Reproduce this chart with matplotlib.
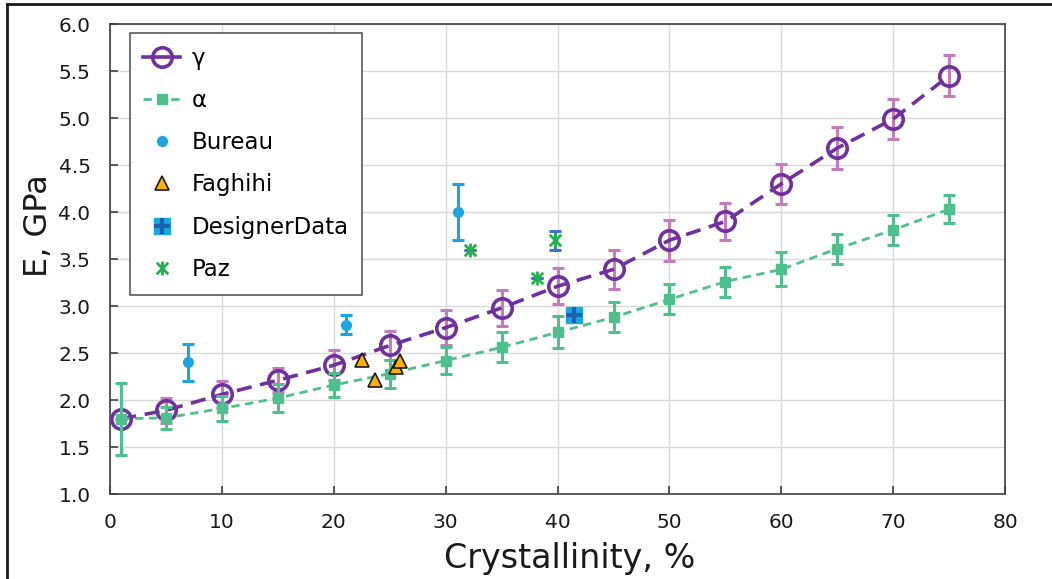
import matplotlib
matplotlib.use("Agg")
from matplotlib import pyplot as plt
from matplotlib.lines import Line2D
from matplotlib.path import Path

# model curves
cryst = [1, 5, 10, 15, 20, 25, 30, 35, 40, 45, 50, 55, 60, 65, 70, 75]
e_gamma = [1.80, 1.89, 2.06, 2.21, 2.37, 2.58, 2.77, 2.98, 3.21, 3.39, 3.70, 3.90, 4.30, 4.68, 4.99, 5.45]
err_gamma = [0.0, 0.13, 0.14, 0.13, 0.16, 0.15, 0.19, 0.19, 0.19, 0.21, 0.22, 0.20, 0.21, 0.22, 0.21, 0.22]
e_alpha = [1.80, 1.81, 1.91, 2.02, 2.16, 2.28, 2.42, 2.56, 2.72, 2.88, 3.07, 3.26, 3.39, 3.61, 3.81, 4.03]
err_alpha = [0.38, 0.12, 0.13, 0.15, 0.13, 0.15, 0.14, 0.16, 0.17, 0.16, 0.16, 0.16, 0.18, 0.16, 0.16, 0.15]

# experimental points
bureau_x = [7.0, 21.1, 31.1]
bureau_y = [2.40, 2.80, 4.00]
bureau_err = [0.20, 0.10, 0.30]
faghihi_x = [22.5, 23.7, 25.6, 25.9]
faghihi_y = [2.43, 2.21, 2.35, 2.41]
designer_x = [41.5]
designer_y = [2.90]
paz_x = [32.2, 38.2, 39.8]
paz_y = [3.60, 3.30, 3.70]
paz_err = [0.0, 0.0, 0.10]

purple = "#7030A0"
pink = "#C67BBE"
green = "#50BF8E"
sky = "#1BA6E0"
paz_green = "#22B14C"

plt.rcParams["font.family"] = "DejaVu Sans"

fig = plt.figure(figsize=(10.52, 5.79), dpi=100)
ax = fig.add_axes([0.1046, 0.1468, 0.8508, 0.8117])

# gamma
ax.errorbar(cryst, e_gamma, yerr=err_gamma, fmt="none", ecolor=pink, elinewidth=2.2,
            capsize=4, capthick=2.2, zorder=3)
ax.plot(cryst, e_gamma, color=purple, lw=2.6, dashes=(4.2, 2.4), marker="o", ms=14,
        mfc="none", mec=purple, mew=2.6, zorder=4)
# alpha
ax.errorbar(cryst, e_alpha, yerr=err_alpha, fmt="none", ecolor=green, elinewidth=2.2,
            capsize=4, capthick=2.2, zorder=5)
ax.plot(cryst, e_alpha, color=green, lw=2.0, dashes=(3.0, 2.0), marker="s", ms=7.5,
        mfc=green, mec=green, zorder=5)

ax.errorbar(bureau_x, bureau_y, yerr=bureau_err, fmt="o", color=sky, ms=7,
            elinewidth=2.2, capsize=4, capthick=2.2, zorder=6)
ax.plot(faghihi_x, faghihi_y, ls="none", marker="^", ms=10, mfc="#FFB000",
        mec="#1a1a1a", mew=1.2, zorder=6)
ax.plot(designer_x, designer_y, ls="none", marker="s", ms=12, mfc=sky, mec=sky, zorder=6)
ax.plot(designer_x, designer_y, ls="none", marker="+", ms=11, mew=3, color="#1F5FAF", zorder=7)

star = Path([(-1, -1), (1, 1), (-1, 1), (1, -1), (0, -1.2), (0, 1.2)],
            [Path.MOVETO, Path.LINETO, Path.MOVETO, Path.LINETO, Path.MOVETO, Path.LINETO])
ax.errorbar(paz_x, paz_y, yerr=paz_err, fmt="none", ecolor="#4472C4", elinewidth=2.2,
            capsize=4, capthick=2.2, zorder=6)
ax.plot(paz_x, paz_y, ls="none", marker=star, ms=10, mew=2, color=paz_green, zorder=7)

ax.set_xlim(0, 80)
ax.set_ylim(1.0, 6.0)
ax.set_xticks(range(0, 81, 10))
ax.set_yticks([1.0 + 0.5 * i for i in range(11)])
ax.set_yticklabels(["%.1f" % (1.0 + 0.5 * i) for i in range(11)])
ax.grid(True, color="#d9d9d9", lw=1)
ax.set_axisbelow(True)
for s in ax.spines.values():
    s.set_color("#404040")
    s.set_linewidth(1.2)
ax.tick_params(direction="in", length=6, width=1.2, color="#404040", labelsize=14.5,
               labelcolor="#1a1a1a")
ax.tick_params(axis="y", pad=14)
ax.tick_params(axis="x", pad=14)
ax.set_xlabel("Crystallinity, %", fontsize=24, color="#1a1a1a")
ax.set_ylabel("E, GPa", fontsize=23, color="#1a1a1a")
ax.xaxis.set_label_coords(0.514, -0.138, transform=ax.transAxes)
ax.xaxis.label.set_va("center")
ax.yaxis.set_label_coords(-0.08, 0.572, transform=ax.transAxes)
ax.yaxis.label.set_va("center")

h_gamma = Line2D([], [], color=purple, lw=2.6, marker="o", ms=14, mfc="none", mew=2.6)
h_alpha = Line2D([], [], color=green, lw=2.0, dashes=(3.0, 2.0), marker="s", ms=7.5)
h_bureau = Line2D([], [], ls="none", marker="o", ms=7, color=sky)
h_fag = Line2D([], [], ls="none", marker="^", ms=10, mfc="#FFB000", mec="#1a1a1a", mew=1.2)
h_des = (Line2D([], [], ls="none", marker="s", ms=12, color=sky),
         Line2D([], [], ls="none", marker="+", ms=11, mew=3, color="#1F5FAF"))
h_paz = Line2D([], [], ls="none", marker=star, ms=10, mew=2, color=paz_green)
leg = ax.legend([h_gamma, h_alpha, h_bureau, h_fag, h_des, h_paz],
                ["γ", "α", "Bureau", "Faghihi", "DesignerData", "Paz"],
                loc="upper left", bbox_to_anchor=(0.022, 0.981), borderaxespad=0,
                fontsize=16.5, frameon=True, fancybox=False, framealpha=1,
                edgecolor="#595959", labelspacing=0.84, handlelength=1.6,
                handletextpad=0.5, borderpad=0.6)
leg.get_frame().set_linewidth(1.2)
leg.set_zorder(10)

# outer frame of the image (top and left edges)
fig.add_artist(Line2D([7 / 1052, 1], [1 - 4 / 579, 1 - 4 / 579], color="#1a1a1a", lw=2))
fig.add_artist(Line2D([7 / 1052, 7 / 1052], [0, 1 - 4 / 579], color="#1a1a1a", lw=2))

fig.savefig("out.png", dpi=100)
